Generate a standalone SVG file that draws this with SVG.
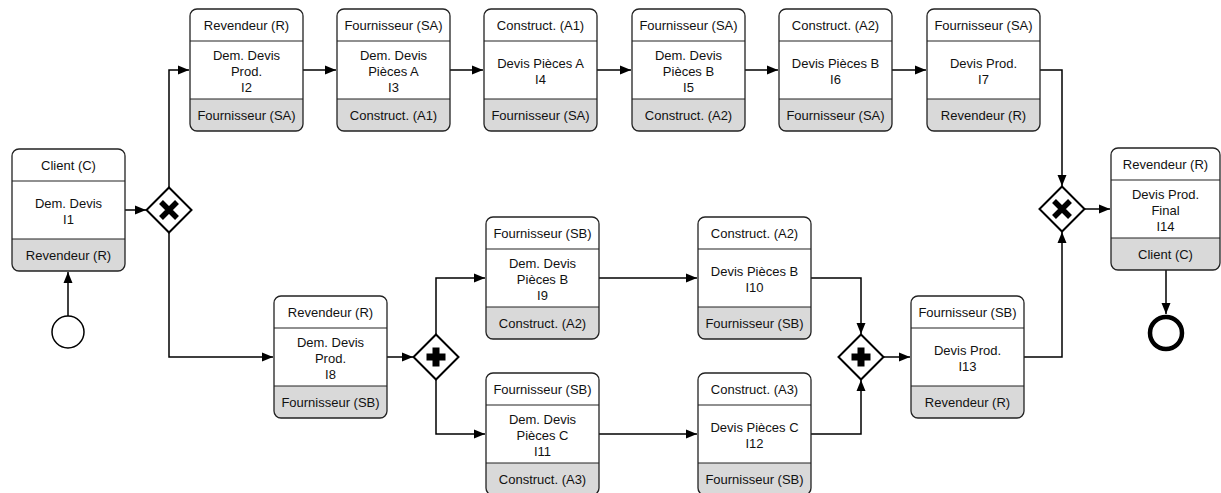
<svg xmlns="http://www.w3.org/2000/svg" xmlns:xlink="http://www.w3.org/1999/xlink" width="1221" height="493" viewBox="0 0 1221 493">
<style>
text{font-family:"Liberation Sans",Arial,sans-serif;font-size:13px;fill:#111;text-anchor:middle}
.fl{fill:none;stroke:#000;stroke-width:1.5}
.gw{fill:#fff;stroke:#000;stroke-width:2}
.mk{fill:#000}
</style>
<defs>
<marker id="arr" markerUnits="userSpaceOnUse" markerWidth="12" markerHeight="10" refX="11" refY="5" orient="auto">
<path d="M0,0.5 L11,5 L0,9.5 Z" fill="#000"/>
</marker>
<g id="card">
<rect x="0" y="0" width="113" height="122" rx="7" fill="#fff"/>
<path d="M0,90 H113 V115 A7,7 0 0 1 106,122 H7 A7,7 0 0 1 0,115 Z" fill="#d9d9d9"/>
<path d="M0,32 H113 M0,90 H113" stroke="#222" stroke-width="1.2" fill="none"/>
<rect x="0" y="0" width="113" height="122" rx="7" fill="none" stroke="#222" stroke-width="1.3"/>
</g>
<g id="card2">
<rect x="0" y="0" width="109" height="122" rx="7" fill="#fff"/>
<path d="M0,90 H109 V115 A7,7 0 0 1 102,122 H7 A7,7 0 0 1 0,115 Z" fill="#d9d9d9"/>
<path d="M0,32 H109 M0,90 H109" stroke="#222" stroke-width="1.2" fill="none"/>
<rect x="0" y="0" width="109" height="122" rx="7" fill="none" stroke="#222" stroke-width="1.3"/>
</g>
<path id="dia" d="M0,-22.5 L22.5,0 L0,22.5 L-22.5,0 Z"/>
</defs>

<g id="connectors">
<path class="fl" d="M68,316 V272" marker-end="url(#arr)"/>
<path class="fl" d="M125,210 H146" marker-end="url(#arr)"/>
<path class="fl" d="M169,187.5 V70 H189" marker-end="url(#arr)"/>
<path class="fl" d="M169,232.5 V357 H273" marker-end="url(#arr)"/>
<path class="fl" d="M303,70 H336" marker-end="url(#arr)"/>
<path class="fl" d="M450,70 H483" marker-end="url(#arr)"/>
<path class="fl" d="M597,70 H631" marker-end="url(#arr)"/>
<path class="fl" d="M745,70 H778" marker-end="url(#arr)"/>
<path class="fl" d="M892,70 H926" marker-end="url(#arr)"/>
<path class="fl" d="M1040,70 H1062 V186" marker-end="url(#arr)"/>
<path class="fl" d="M387,357 H413" marker-end="url(#arr)"/>
<path class="fl" d="M436,334.5 V278 H485" marker-end="url(#arr)"/>
<path class="fl" d="M436,379.5 V434 H485" marker-end="url(#arr)"/>
<path class="fl" d="M599,278 H697" marker-end="url(#arr)"/>
<path class="fl" d="M599,434 H697" marker-end="url(#arr)"/>
<path class="fl" d="M811,278 H861 V334" marker-end="url(#arr)"/>
<path class="fl" d="M811,434 H861 V380" marker-end="url(#arr)"/>
<path class="fl" d="M883.5,357 H910" marker-end="url(#arr)"/>
<path class="fl" d="M1024,357 H1062 V232" marker-end="url(#arr)"/>
<path class="fl" d="M1084.5,209 H1110" marker-end="url(#arr)"/>
<path class="fl" d="M1166,270 V314" marker-end="url(#arr)"/>
</g>

<g id="start"><circle cx="68" cy="332" r="16" fill="#fff" stroke="#000" stroke-width="1.5"/></g>
<g id="end"><circle cx="1166" cy="333" r="16" fill="#fff" stroke="#000" stroke-width="4.5"/></g>

<g id="X1" transform="translate(169,210)">
<use xlink:href="#dia" class="gw"/>
<path d="M-8,-8 L8,8 M8,-8 L-8,8" stroke="#000" stroke-width="5.5" stroke-linecap="butt"/>
</g>
<g id="X2" transform="translate(1062,209)">
<use xlink:href="#dia" class="gw"/>
<path d="M-8,-8 L8,8 M8,-8 L-8,8" stroke="#000" stroke-width="5.5" stroke-linecap="butt"/>
</g>
<g id="P1" transform="translate(436,357)">
<use xlink:href="#dia" class="gw"/>
<path d="M-3.5,-9.5 H3.5 V-3.5 H9.5 V3.5 H3.5 V9.5 H-3.5 V3.5 H-9.5 V-3.5 H-3.5 Z" class="mk"/>
</g>
<g id="P2" transform="translate(861,357)">
<use xlink:href="#dia" class="gw"/>
<path d="M-3.5,-9.5 H3.5 V-3.5 H9.5 V3.5 H3.5 V9.5 H-3.5 V3.5 H-9.5 V-3.5 H-3.5 Z" class="mk"/>
</g>

<g id="I1" transform="translate(12,149)">
<use xlink:href="#card"/>
<text x="56.5" y="21">Client (C)</text>
<text x="56.5" y="59">Dem. Devis</text><text x="56.5" y="75">I1</text>
<text x="56.5" y="111">Revendeur (R)</text>
</g>
<g id="I2" transform="translate(190,9)">
<use xlink:href="#card"/>
<text x="56.5" y="21">Revendeur (R)</text>
<text x="56.5" y="51">Dem. Devis</text><text x="56.5" y="67">Prod.</text><text x="56.5" y="83">I2</text>
<text x="56.5" y="111">Fournisseur (SA)</text>
</g>
<g id="I3" transform="translate(337,9)">
<use xlink:href="#card"/>
<text x="56.5" y="21">Fournisseur (SA)</text>
<text x="56.5" y="51">Dem. Devis</text><text x="56.5" y="67">Pièces A</text><text x="56.5" y="83">I3</text>
<text x="56.5" y="111">Construct. (A1)</text>
</g>
<g id="I4" transform="translate(484,9)">
<use xlink:href="#card"/>
<text x="56.5" y="21">Construct. (A1)</text>
<text x="56.5" y="59">Devis Pièces A</text><text x="56.5" y="75">I4</text>
<text x="56.5" y="111">Fournisseur (SA)</text>
</g>
<g id="I5" transform="translate(632,9)">
<use xlink:href="#card"/>
<text x="56.5" y="21">Fournisseur (SA)</text>
<text x="56.5" y="51">Dem. Devis</text><text x="56.5" y="67">Pièces B</text><text x="56.5" y="83">I5</text>
<text x="56.5" y="111">Construct. (A2)</text>
</g>
<g id="I6" transform="translate(779,9)">
<use xlink:href="#card"/>
<text x="56.5" y="21">Construct. (A2)</text>
<text x="56.5" y="59">Devis Pièces B</text><text x="56.5" y="75">I6</text>
<text x="56.5" y="111">Fournisseur (SA)</text>
</g>
<g id="I7" transform="translate(927,9)">
<use xlink:href="#card"/>
<text x="56.5" y="21">Fournisseur (SA)</text>
<text x="56.5" y="59">Devis Prod.</text><text x="56.5" y="75">I7</text>
<text x="56.5" y="111">Revendeur (R)</text>
</g>
<g id="I8" transform="translate(274,296)">
<use xlink:href="#card"/>
<text x="56.5" y="21">Revendeur (R)</text>
<text x="56.5" y="51">Dem. Devis</text><text x="56.5" y="67">Prod.</text><text x="56.5" y="83">I8</text>
<text x="56.5" y="111">Fournisseur (SB)</text>
</g>
<g id="I9" transform="translate(486,217)">
<use xlink:href="#card"/>
<text x="56.5" y="21">Fournisseur (SB)</text>
<text x="56.5" y="51">Dem. Devis</text><text x="56.5" y="67">Pièces B</text><text x="56.5" y="83">I9</text>
<text x="56.5" y="111">Construct. (A2)</text>
</g>
<g id="I10" transform="translate(698,217)">
<use xlink:href="#card"/>
<text x="56.5" y="21">Construct. (A2)</text>
<text x="56.5" y="59">Devis Pièces B</text><text x="56.5" y="75">I10</text>
<text x="56.5" y="111">Fournisseur (SB)</text>
</g>
<g id="I11" transform="translate(486,373)">
<use xlink:href="#card"/>
<text x="56.5" y="21">Fournisseur (SB)</text>
<text x="56.5" y="51">Dem. Devis</text><text x="56.5" y="67">Pièces C</text><text x="56.5" y="83">I11</text>
<text x="56.5" y="111">Construct. (A3)</text>
</g>
<g id="I12" transform="translate(698,373)">
<use xlink:href="#card"/>
<text x="56.5" y="21">Construct. (A3)</text>
<text x="56.5" y="59">Devis Pièces C</text><text x="56.5" y="75">I12</text>
<text x="56.5" y="111">Fournisseur (SB)</text>
</g>
<g id="I13" transform="translate(911,296)">
<use xlink:href="#card"/>
<text x="56.5" y="21">Fournisseur (SB)</text>
<text x="56.5" y="59">Devis Prod.</text><text x="56.5" y="75">I13</text>
<text x="56.5" y="111">Revendeur (R)</text>
</g>
<g id="I14" transform="translate(1111,148)">
<use xlink:href="#card2"/>
<text x="54.5" y="21">Revendeur (R)</text>
<text x="54.5" y="51">Devis Prod.</text><text x="54.5" y="67">Final</text><text x="54.5" y="83">I14</text>
<text x="54.5" y="111">Client (C)</text>
</g>
</svg>
